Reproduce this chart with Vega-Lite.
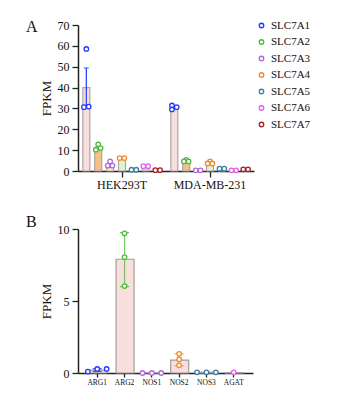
{
  "$schema": "https://vega.github.io/schema/vega-lite/v6.json",
  "background": "white",
  "padding": {"left": 26, "top": 19, "right": 5, "bottom": 5},
  "spacing": 24,
  "config": {
    "font": "Liberation Serif",
    "view": {"stroke": null},
    "axis": {"domainColor": "#222222", "domainWidth": 1.5, "tickColor": "#222222", "tickWidth": 1.3, "tickSize": 6, "labelColor": "#111111", "labelFont": "Liberation Serif", "labelFontSize": 12, "titleFont": "Liberation Serif", "titleFontSize": 13, "titleFontWeight": "normal", "titleColor": "#111111", "grid": false, "labelPadding": 3, "labelOverlap": false},
    "title": {"font": "Liberation Serif", "fontSize": 16, "fontWeight": "normal", "color": "#111111", "anchor": "start"},
    "legend": {"labelFont": "Liberation Serif", "labelFontSize": 11.5, "labelColor": "#111111"}
  },
  "resolve": {"scale": {"color": "independent", "fill": "independent", "x": "independent", "y": "independent", "xOffset": "independent"}},
  "datasets": {
    "barsA": [
      {"cell": "HEK293T", "gene": "SLC7A1", "slot": "SLC7A1-3", "mean": 40},
      {"cell": "HEK293T", "gene": "SLC7A2", "slot": "SLC7A2-3", "mean": 11.3},
      {"cell": "HEK293T", "gene": "SLC7A3", "slot": "SLC7A3-3", "mean": 1.6},
      {"cell": "HEK293T", "gene": "SLC7A4", "slot": "SLC7A4-3", "mean": 5.6},
      {"cell": "HEK293T", "gene": "SLC7A5", "slot": "SLC7A5-3", "mean": 0.8},
      {"cell": "HEK293T", "gene": "SLC7A6", "slot": "SLC7A6-3", "mean": 1.8},
      {"cell": "HEK293T", "gene": "SLC7A7", "slot": "SLC7A7-3", "mean": 0.3},
      {"cell": "MDA-MB-231", "gene": "SLC7A1", "slot": "SLC7A1-3", "mean": 30.5},
      {"cell": "MDA-MB-231", "gene": "SLC7A2", "slot": "SLC7A2-3", "mean": 4.2},
      {"cell": "MDA-MB-231", "gene": "SLC7A3", "slot": "SLC7A3-3", "mean": 0.1},
      {"cell": "MDA-MB-231", "gene": "SLC7A4", "slot": "SLC7A4-3", "mean": 3.2},
      {"cell": "MDA-MB-231", "gene": "SLC7A5", "slot": "SLC7A5-3", "mean": 0.8},
      {"cell": "MDA-MB-231", "gene": "SLC7A6", "slot": "SLC7A6-3", "mean": 0.2},
      {"cell": "MDA-MB-231", "gene": "SLC7A7", "slot": "SLC7A7-3", "mean": 0.6}
    ],
    "errA": [
      {"cell": "HEK293T", "gene": "SLC7A1", "slot": "SLC7A1-3", "lo": 30.7, "hi": 49.4}
    ],
    "ptsA": [
      {"cell": "HEK293T", "gene": "SLC7A1", "slot": "SLC7A1-3", "value": 58.5},
      {"cell": "HEK293T", "gene": "SLC7A1", "slot": "SLC7A1-2", "value": 30.6},
      {"cell": "HEK293T", "gene": "SLC7A1", "slot": "SLC7A1-4", "value": 30.9},
      {"cell": "HEK293T", "gene": "SLC7A2", "slot": "SLC7A2-3", "value": 12.8},
      {"cell": "HEK293T", "gene": "SLC7A2", "slot": "SLC7A2-2", "value": 10.2},
      {"cell": "HEK293T", "gene": "SLC7A2", "slot": "SLC7A2-4", "value": 11.0},
      {"cell": "HEK293T", "gene": "SLC7A3", "slot": "SLC7A3-3", "value": 4.6},
      {"cell": "HEK293T", "gene": "SLC7A3", "slot": "SLC7A3-2", "value": 2.6},
      {"cell": "HEK293T", "gene": "SLC7A3", "slot": "SLC7A3-4", "value": 2.6},
      {"cell": "HEK293T", "gene": "SLC7A4", "slot": "SLC7A4-2", "value": 6.2},
      {"cell": "HEK293T", "gene": "SLC7A4", "slot": "SLC7A4-4", "value": 6.2},
      {"cell": "HEK293T", "gene": "SLC7A5", "slot": "SLC7A5-2", "value": 0.6},
      {"cell": "HEK293T", "gene": "SLC7A5", "slot": "SLC7A5-4", "value": 0.6},
      {"cell": "HEK293T", "gene": "SLC7A6", "slot": "SLC7A6-2", "value": 2.3},
      {"cell": "HEK293T", "gene": "SLC7A6", "slot": "SLC7A6-4", "value": 2.3},
      {"cell": "HEK293T", "gene": "SLC7A7", "slot": "SLC7A7-2", "value": 0.4},
      {"cell": "HEK293T", "gene": "SLC7A7", "slot": "SLC7A7-4", "value": 0.4},
      {"cell": "MDA-MB-231", "gene": "SLC7A1", "slot": "SLC7A1-2", "value": 31.4},
      {"cell": "MDA-MB-231", "gene": "SLC7A1", "slot": "SLC7A1-4", "value": 30.6},
      {"cell": "MDA-MB-231", "gene": "SLC7A1", "slot": "SLC7A1-2", "value": 29.5},
      {"cell": "MDA-MB-231", "gene": "SLC7A2", "slot": "SLC7A2-3", "value": 5.3},
      {"cell": "MDA-MB-231", "gene": "SLC7A2", "slot": "SLC7A2-2", "value": 4.6},
      {"cell": "MDA-MB-231", "gene": "SLC7A2", "slot": "SLC7A2-4", "value": 4.6},
      {"cell": "MDA-MB-231", "gene": "SLC7A3", "slot": "SLC7A3-2", "value": 0.3},
      {"cell": "MDA-MB-231", "gene": "SLC7A3", "slot": "SLC7A3-4", "value": 0.3},
      {"cell": "MDA-MB-231", "gene": "SLC7A4", "slot": "SLC7A4-3", "value": 4.6},
      {"cell": "MDA-MB-231", "gene": "SLC7A4", "slot": "SLC7A4-2", "value": 3.6},
      {"cell": "MDA-MB-231", "gene": "SLC7A4", "slot": "SLC7A4-4", "value": 3.6},
      {"cell": "MDA-MB-231", "gene": "SLC7A5", "slot": "SLC7A5-2", "value": 1.1},
      {"cell": "MDA-MB-231", "gene": "SLC7A5", "slot": "SLC7A5-4", "value": 1.1},
      {"cell": "MDA-MB-231", "gene": "SLC7A6", "slot": "SLC7A6-2", "value": 0.3},
      {"cell": "MDA-MB-231", "gene": "SLC7A6", "slot": "SLC7A6-4", "value": 0.3},
      {"cell": "MDA-MB-231", "gene": "SLC7A7", "slot": "SLC7A7-2", "value": 0.8},
      {"cell": "MDA-MB-231", "gene": "SLC7A7", "slot": "SLC7A7-4", "value": 0.8}
    ],
    "barsB": [
      {"gene": "ARG1", "mean": 0.2},
      {"gene": "ARG2", "mean": 7.9},
      {"gene": "NOS1", "mean": 0},
      {"gene": "NOS2", "mean": 0.9},
      {"gene": "NOS3", "mean": 0.05},
      {"gene": "AGAT", "mean": 0.02}
    ],
    "errB": [
      {"gene": "ARG1", "lo": 0.1, "hi": 0.3},
      {"gene": "ARG2", "lo": 6.0, "hi": 9.75},
      {"gene": "NOS2", "lo": 0.5, "hi": 1.33}
    ],
    "ptsB": [
      {"gene": "ARG1", "pos": "L", "value": 0.1},
      {"gene": "ARG1", "pos": "C", "value": 0.28},
      {"gene": "ARG1", "pos": "R", "value": 0.28},
      {"gene": "ARG2", "pos": "C", "value": 9.7},
      {"gene": "ARG2", "pos": "C", "value": 8.05},
      {"gene": "ARG2", "pos": "C", "value": 6.04},
      {"gene": "NOS1", "pos": "L", "value": 0},
      {"gene": "NOS1", "pos": "C", "value": 0},
      {"gene": "NOS1", "pos": "R", "value": 0},
      {"gene": "NOS2", "pos": "C", "value": 1.33},
      {"gene": "NOS2", "pos": "C", "value": 0.95},
      {"gene": "NOS2", "pos": "C", "value": 0.53},
      {"gene": "NOS3", "pos": "L", "value": 0.05},
      {"gene": "NOS3", "pos": "C", "value": 0.05},
      {"gene": "NOS3", "pos": "R", "value": 0.05},
      {"gene": "AGAT", "pos": "C", "value": 0.05}
    ]
  },
  "vconcat": [
    {
      "title": {"text": "A", "dx": -14, "dy": 20},
      "width": 176,
      "height": 146,
      "encoding": {
        "x": {"field": "cell", "type": "nominal", "title": null, "scale": {"domain": ["HEK293T", "MDA-MB-231"], "paddingInner": 0, "paddingOuter": 0}, "axis": {"labelAngle": 0, "labelPadding": 2}},
        "xOffset": {"field": "slot", "type": "nominal", "scale": {"domain": ["SLC7A1-1", "SLC7A1-2", "SLC7A1-3", "SLC7A1-4", "SLC7A1-5", "SLC7A2-1", "SLC7A2-2", "SLC7A2-3", "SLC7A2-4", "SLC7A2-5", "SLC7A3-1", "SLC7A3-2", "SLC7A3-3", "SLC7A3-4", "SLC7A3-5", "SLC7A4-1", "SLC7A4-2", "SLC7A4-3", "SLC7A4-4", "SLC7A4-5", "SLC7A5-1", "SLC7A5-2", "SLC7A5-3", "SLC7A5-4", "SLC7A5-5", "SLC7A6-1", "SLC7A6-2", "SLC7A6-3", "SLC7A6-4", "SLC7A6-5", "SLC7A7-1", "SLC7A7-2", "SLC7A7-3", "SLC7A7-4", "SLC7A7-5"], "paddingInner": 0, "paddingOuter": 1.14}}
      },
      "layer": [
        {
          "data": {"name": "barsA"},
          "mark": {"type": "bar", "stroke": "#b0a4a4", "strokeWidth": 1.2, "width": 7},
          "encoding": {
            "y": {"field": "mean", "type": "quantitative", "title": "FPKM", "scale": {"domain": [0, 70], "nice": false}, "axis": {"values": [0, 10, 20, 30, 40, 50, 60, 70], "tickCount": 8, "labelOverlap": false}},
            "fill": {"field": "gene", "type": "nominal", "legend": null, "scale": {"range": ["#f9dede", "#f5c08c", "#fcf3a6", "#d9f5cd", "#c2d8ea", "#c9d3f3", "#f0c8c8"]}}
          }
        },
        {
          "data": {"name": "errA"},
          "mark": {"type": "rule", "color": "#1e3cff", "strokeWidth": 1.2},
          "encoding": {
            "y": {"field": "lo", "type": "quantitative"},
            "y2": {"field": "hi"}
          }
        },
        {
          "data": {"name": "errA"},
          "mark": {"type": "tick", "color": "#1e3cff", "size": 5, "thickness": 1.2},
          "encoding": {
            "y": {"field": "hi", "type": "quantitative"}
          }
        },
        {
          "data": {"name": "ptsA"},
          "mark": {"type": "point", "shape": "circle", "filled": false, "fill": "white", "fillOpacity": 1, "size": 20, "strokeWidth": 1.3, "opacity": 1},
          "encoding": {
            "y": {"field": "value", "type": "quantitative"},
            "color": {"field": "gene", "type": "nominal", "scale": {"domain": ["SLC7A1", "SLC7A2", "SLC7A3", "SLC7A4", "SLC7A5", "SLC7A6", "SLC7A7"], "range": ["#1e3cff", "#4cbb3a", "#b466e0", "#f28a2e", "#3d80a4", "#e660e6", "#a42020"]},
              "legend": {"title": null, "orient": "none", "legendX": 178, "legendY": -5, "symbolType": "circle", "symbolSize": 20, "symbolStrokeWidth": 1.3, "symbolFillColor": "white", "labelFont": "Liberation Serif", "labelFontSize": 11, "labelColor": "#111111", "labelOffset": 4, "rowPadding": 4.5}}
          }
        }
      ]
    },
    {
      "title": {"text": "B", "dx": -14, "dy": 11},
      "width": 175,
      "height": 144,
      "layer": [
        {
          "data": {"name": "barsB"},
          "mark": {"type": "bar", "fill": "#f9dede", "stroke": "#a89a9a", "strokeWidth": 1.2, "width": {"band": 0.62}},
          "encoding": {
            "x": {"field": "gene", "type": "nominal", "title": null, "sort": null, "scale": {"domain": ["ARG1", "ARG2", "NOS1", "NOS2", "NOS3", "AGAT"], "paddingInner": 0, "paddingOuter": 0.205}, "axis": {"labelAngle": 0, "labelFontSize": 7.5, "labelPadding": 1, "tickSize": 4}},
            "y": {"field": "mean", "type": "quantitative", "title": "FPKM", "scale": {"domain": [0, 10], "nice": false}, "axis": {"values": [0, 5, 10]}}
          }
        },
        {
          "data": {"name": "errB"},
          "mark": {"type": "rule", "strokeWidth": 1.2, "opacity": 0.75},
          "encoding": {
            "x": {"field": "gene", "type": "nominal"},
            "y": {"field": "lo", "type": "quantitative"},
            "y2": {"field": "hi"},
            "color": {"field": "gene", "type": "nominal", "legend": null, "scale": {"domain": ["ARG1", "ARG2", "NOS1", "NOS2", "NOS3", "AGAT"], "range": ["#1e3cff", "#4cbb3a", "#b466e0", "#f28a2e", "#3d80a4", "#e660e6"]}}
          }
        },
        {
          "data": {"name": "errB"},
          "mark": {"type": "tick", "size": 9, "thickness": 1.2, "opacity": 0.85},
          "encoding": {
            "x": {"field": "gene", "type": "nominal"},
            "y": {"field": "hi", "type": "quantitative"},
            "color": {"field": "gene", "type": "nominal", "legend": null}
          }
        },
        {
          "data": {"name": "errB"},
          "mark": {"type": "tick", "size": 9, "thickness": 1.2, "opacity": 0.85},
          "encoding": {
            "x": {"field": "gene", "type": "nominal"},
            "y": {"field": "lo", "type": "quantitative"},
            "color": {"field": "gene", "type": "nominal", "legend": null}
          }
        },
        {
          "data": {"name": "ptsB"},
          "mark": {"type": "point", "shape": "circle", "filled": false, "fill": "white", "fillOpacity": 1, "size": 20, "strokeWidth": 1.3, "opacity": 1},
          "encoding": {
            "x": {"field": "gene", "type": "nominal"},
            "xOffset": {"field": "pos", "type": "nominal", "scale": {"domain": ["L", "C", "R"], "paddingInner": 0, "paddingOuter": 0.45}},
            "y": {"field": "value", "type": "quantitative"},
            "color": {"field": "gene", "type": "nominal", "legend": null}
          }
        }
      ]
    }
  ]
}
